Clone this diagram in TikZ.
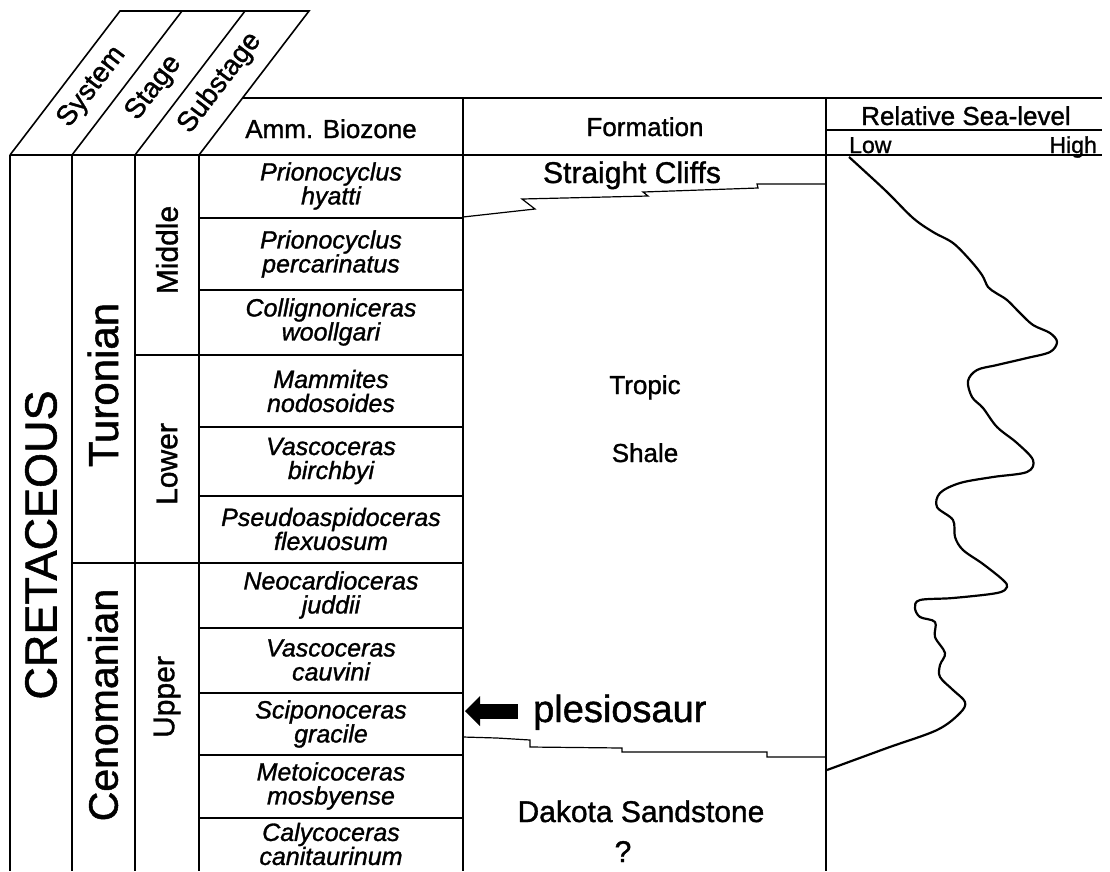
\documentclass[tikz,border=0pt]{standalone}
\usepackage{fontspec}
\setmainfont{Liberation Sans}[FakeBold=1.2]
\usetikzlibrary{arrows.meta}

\tikzset{
  frame/.style={line width=1.6pt, line join=miter},
  zoneline/.style={line width=1.3pt},
  contact/.style={line width=1.2pt, line join=miter},
  sealevel/.style={line width=2.2pt, smooth, tension=0.55, line join=round},
  lbl/.style={inner sep=0pt, font=\fontsize{#1}{#1}\selectfont},
  biozone/.style={inner sep=0pt, align=center, font=\fontsize{25}{24}\selectfont\itshape},
  fatarrow/.style={line width=15pt, -{Triangle[length=15pt 0 0, width=30pt 0 0, line width=0pt 0 0]}},
}

\begin{document}
\begin{tikzpicture}[x=1pt,y=-1pt]
\useasboundingbox (0,0) rectangle (1110,871);

% slanted heads of the time columns
\draw[frame] (10,155) -- (120,11) -- (309,11) -- (199,155);
\draw[frame] (72,155) -- (182,11);
\draw[frame] (135,155) -- (245,11);
\node[lbl=28, rotate=52.6] (sys) at (92,87) {System};
\node[lbl=28, rotate=52.6] (stg) at (154,88) {Stage};
\node[lbl=28, rotate=52.6] (sub) at (220,83) {Substage};

% header boxes
\draw[frame] (242,98) -- (1102,98);
\draw[frame] (826,130) -- (1102,130);
\draw[frame] (10,155) -- (1102,155);
\node[lbl=26, anchor=base] (amm) at (331,138) {Amm. Biozone};
\node[lbl=26, anchor=base] (fmn) at (645,136) {Formation};
\node[lbl=26, anchor=base] (sea) at (966,125) {Relative Sea-level};
\node[lbl=23, anchor=base west] (low) at (849,153) {Low};
\node[lbl=23, anchor=base east] (high) at (1097,153) {High};

% column rules
\foreach \x in {10,72,135,199}
  \draw[frame] (\x,155) -- (\x,871);
\draw[frame] (463,98) -- (463,871);
\draw[frame] (826,98) -- (826,871);

% stage and substage limits
\draw[frame] (72,563) -- (463,563);
\draw[frame] (135,355) -- (463,355);
\foreach \y in {218,290,427,496,628,693,755,818}
  \draw[zoneline] (199,\y) -- (463,\y);

\node[lbl=45, rotate=90] (cret) at (41,545) {CRETACEOUS};
\node[lbl=42, rotate=90] (tur) at (103,385) {Turonian};
\node[lbl=41, rotate=90] (cen) at (103,705) {Cenomanian};
\node[lbl=30, rotate=90] (mid) at (167,250) {Middle};
\node[lbl=30, rotate=90] (lowr) at (167,464) {Lower};
\node[lbl=30, rotate=90] (upp) at (167,697) {Upper};

% ammonite zones
\foreach \y/\txt [count=\i] in {
    186/{Prionocyclus\\hyatti},
    254/{Prionocyclus\\percarinatus},
    322/{Collignoniceras\\woollgari},
    391/{Mammites\\nodosoides},
    461/{Vascoceras\\birchbyi},
    529/{Pseudoaspidoceras\\flexuosum},
    595/{Neocardioceras\\juddii},
    660/{Vascoceras\\cauvini},
    724/{Sciponoceras\\gracile},
    786/{Metoicoceras\\mosbyense},
    844/{Calycoceras\\canitaurinum}}
  \node[biozone] (zone\i) at (331,\y) {\txt};

% formations
\draw[contact] (463,217) -- (535,209) -- (522,199) -- (648,196) -- (643,192)
  -- (758,188) -- (757,184) -- (826,184);
\draw[contact] (463,737) -- (497,738) -- (530,740) -- (530,747) -- (622,748)
  -- (622,752) -- (767,752) -- (767,757) -- (826,757);
\node[lbl=30, anchor=base] (cliffs) at (632,183) {Straight Cliffs};
\node[lbl=26, anchor=base] (tropic) at (645,394) {Tropic};
\node[lbl=26, anchor=base] (shale) at (645,462) {Shale};
\node[lbl=30, anchor=base] (dakota) at (641,822) {Dakota Sandstone};
\node[lbl=30, anchor=base] (qmark) at (623,862) {?};

% plesiosaur level
\node[lbl=38, anchor=base west] (plesio) at (533,722) {plesiosaur};
\coordinate (arrtip) at (465,711);
\coordinate (arrtail) at ([xshift=-15pt]plesio.west);
\draw[fatarrow] (arrtail |- arrtip) -- (arrtip);

% relative sea-level curve
\draw[sealevel] plot coordinates {
  (849,157) (860,167) (887,192) (913,218) (933,232) (953,243) (970,260)
  (982,275) (988,287) (996,293) (1007,300) (1020,313) (1033,325) (1050,333)
  (1057,342) (1050,352) (1027,358) (997,365) (977,370) (968,381) (972,397)
  (983,408) (997,427) (1017,443) (1033,460) (1027,472) (993,477) (960,483)
  (940,493) (937,507) (953,520) (955,537) (963,550) (983,564) (1003,580)
  (1007,587) (997,593) (953,598) (920,600) (915,608) (920,617) (935,622)
  (935,637) (945,653) (940,665) (940,677) (953,690) (965,702) (960,713)
  (937,730) (887,748) (827,770)};
\end{tikzpicture}
\end{document}
